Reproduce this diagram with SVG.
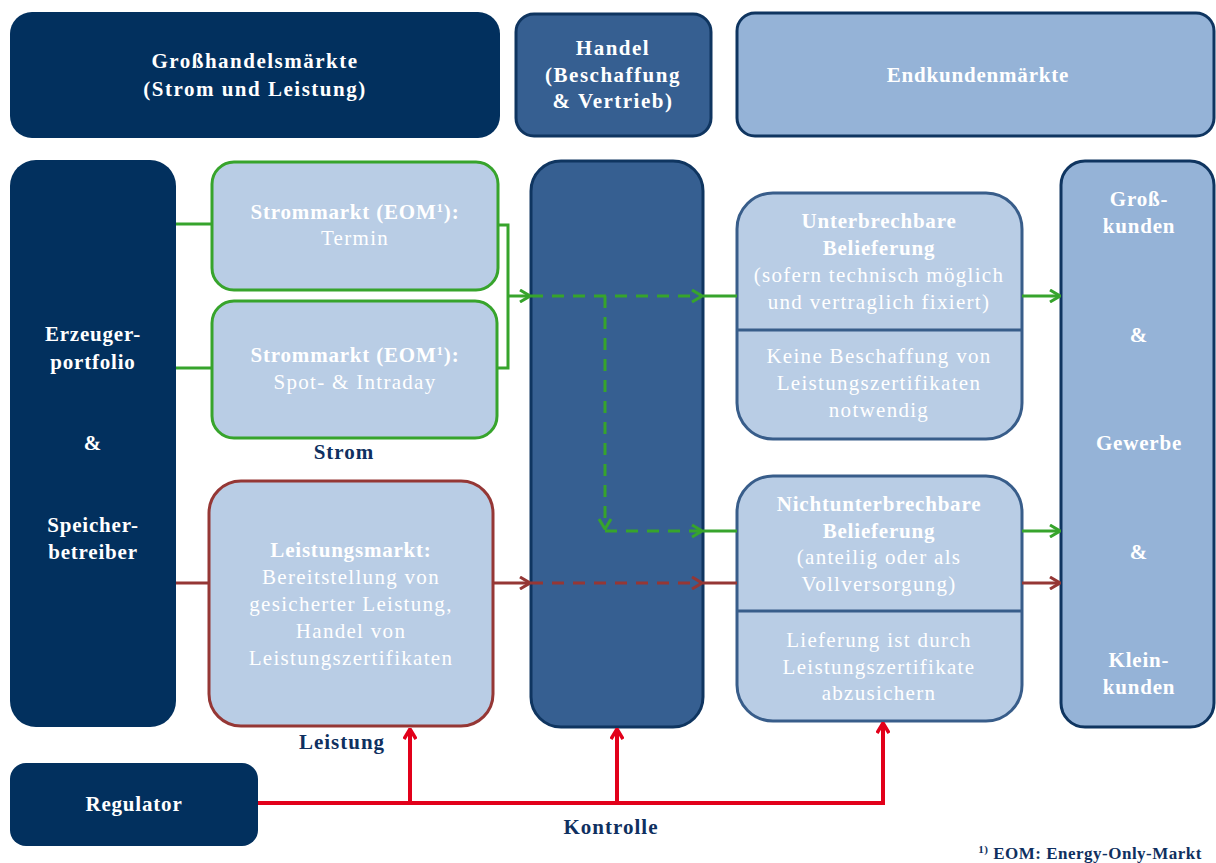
<svg xmlns="http://www.w3.org/2000/svg" width="1216" height="863" viewBox="0 0 1216 863">
<defs>
<style>
text{font-family:"Liberation Serif","DejaVu Serif",serif;font-size:21px;fill:#ffffff;text-anchor:middle;letter-spacing:1.3px}
.b{font-weight:bold;letter-spacing:0.8px}
.h{font-weight:bold;letter-spacing:1.5px}
.lbl{fill:#0f3060;font-weight:bold;letter-spacing:1px}
.dark{fill:#02305e}
.mid{fill:#365f91;stroke:#0f3560;stroke-width:3}
.light{fill:#b9cde5}
.cust{fill:#95b3d7;stroke:#0f3560;stroke-width:3}
.g{stroke:#37a42c;stroke-width:3;fill:none}
.r{stroke:#953735;stroke-width:3;fill:none}
.k{stroke:#e2001a;stroke-width:4;fill:none}
.dash{stroke-dasharray:12 9}
</style>
<marker id="ag" viewBox="0 0 12 14" refX="11" refY="7" markerWidth="12" markerHeight="14" markerUnits="userSpaceOnUse" orient="auto"><path d="M1,1 L11,7 L1,13" fill="none" stroke="#37a42c" stroke-width="3"/></marker>
<marker id="ar" viewBox="0 0 12 14" refX="11" refY="7" markerWidth="12" markerHeight="14" markerUnits="userSpaceOnUse" orient="auto"><path d="M1,1 L11,7 L1,13" fill="none" stroke="#953735" stroke-width="3"/></marker>
<marker id="ak" viewBox="0 0 12 14" refX="11" refY="7" markerWidth="12" markerHeight="14" markerUnits="userSpaceOnUse" orient="auto"><path d="M1,1 L11,7 L1,13" fill="none" stroke="#e2001a" stroke-width="3.5"/></marker>
</defs>

<g id="hdr-gross"><rect x="10" y="12" width="490" height="126" rx="22" class="dark"/>
<text x="255" y="68" class="h">Großhandelsmärkte</text><text x="255" y="96" class="h">(Strom und Leistung)</text></g>
<g id="hdr-handel"><rect x="516" y="14" width="195" height="122" rx="18" class="mid"/>
<text x="613" y="55" class="h">Handel</text><text x="613" y="82" class="h">(Beschaffung</text><text x="613" y="108" class="h">&amp; Vertrieb)</text></g>
<g id="hdr-endkunden"><rect x="737" y="13" width="477" height="123" rx="18" class="cust"/>
<text x="978" y="82" class="b">Endkundenmärkte</text></g>

<g id="erzeuger"><rect x="10" y="160" width="166" height="567" rx="26" class="dark"/>
<text x="93" y="341" class="b">Erzeuger-</text><text x="93" y="369" class="b">portfolio</text><text x="93" y="450" class="b">&amp;</text><text x="93" y="532" class="b">Speicher-</text><text x="93" y="559" class="b">betreiber</text></g>

<g id="strom-termin"><rect x="212" y="162" width="286" height="128" rx="22" class="light" stroke="#37a42c" stroke-width="3"/>
<text x="355" y="219" class="b">Strommarkt (EOM<tspan font-size="13" dy="-7">1</tspan><tspan dy="7">):</tspan></text><text x="355" y="245">Termin</text></g>
<g id="strom-spot"><rect x="212" y="301" width="285" height="137" rx="22" class="light" stroke="#37a42c" stroke-width="3"/>
<text x="355" y="362" class="b">Strommarkt (EOM<tspan font-size="13" dy="-7">1</tspan><tspan dy="7">):</tspan></text><text x="355" y="389">Spot- &amp; Intraday</text></g>
<text x="344" y="459" class="lbl">Strom</text>

<g id="leistungsmarkt"><rect x="209" y="481" width="284" height="245" rx="32" class="light" stroke="#953735" stroke-width="3"/>
<text x="351" y="557" class="b">Leistungsmarkt:</text><text x="351" y="584">Bereitstellung von</text><text x="351" y="611">gesicherter Leistung,</text><text x="351" y="638">Handel von</text><text x="351" y="665">Leistungszertifikaten</text></g>
<text x="342" y="749" class="lbl">Leistung</text>

<g id="regulator"><rect x="10" y="763" width="248" height="83" rx="16" class="dark"/>
<text x="134" y="811" class="b">Regulator</text></g>
<text x="611" y="834" class="lbl">Kontrolle</text>

<g id="handel"><rect x="531" y="161" width="172" height="566" rx="30" class="mid"/></g>

<g id="unterbrechbar"><rect x="737" y="193" width="285" height="246" rx="36" class="light" stroke="#385d8a" stroke-width="3"/>
<line x1="737" y1="330" x2="1022" y2="330" stroke="#385d8a" stroke-width="3"/>
<text x="879" y="228" class="b">Unterbrechbare</text><text x="879" y="255" class="b">Belieferung</text><text x="879" y="282">(sofern technisch möglich</text><text x="879" y="309">und vertraglich fixiert)</text>
<text x="879" y="363">Keine Beschaffung von</text><text x="879" y="390">Leistungszertifikaten</text><text x="879" y="417">notwendig</text></g>

<g id="nichtunterbrechbar"><rect x="737" y="476" width="285" height="245" rx="36" class="light" stroke="#385d8a" stroke-width="3"/>
<line x1="737" y1="611" x2="1022" y2="611" stroke="#385d8a" stroke-width="3"/>
<text x="879" y="511" class="b">Nichtunterbrechbare</text><text x="879" y="538" class="b">Belieferung</text><text x="879" y="564">(anteilig oder als</text><text x="879" y="591">Vollversorgung)</text>
<text x="879" y="647">Lieferung ist durch</text><text x="879" y="674">Leistungszertifikate</text><text x="879" y="700">abzusichern</text></g>

<g id="kunden"><rect x="1061" y="161" width="153" height="566" rx="24" class="cust"/>
<text x="1139" y="206" class="b">Groß-</text><text x="1139" y="233" class="b">kunden</text><text x="1139" y="342" class="b">&amp;</text><text x="1139" y="450" class="b">Gewerbe</text><text x="1139" y="559" class="b">&amp;</text><text x="1139" y="667" class="b">Klein-</text><text x="1139" y="694" class="b">kunden</text></g>

<g id="connectors">
<line x1="176" y1="224" x2="212" y2="224" class="g"/>
<line x1="176" y1="368" x2="212" y2="368" class="g"/>
<polyline points="498,225 508,225 508,368 497,368" class="g"/>
<line x1="508" y1="296" x2="530" y2="296" class="g" marker-end="url(#ag)"/>
<line x1="531" y1="296" x2="702" y2="296" class="g dash" marker-end="url(#ag)"/>
<line x1="703" y1="296" x2="737" y2="296" class="g"/>
<line x1="1022" y1="296" x2="1060" y2="296" class="g" marker-end="url(#ag)"/>
<line x1="605" y1="296" x2="605" y2="529" class="g dash" marker-end="url(#ag)"/>
<line x1="605" y1="531" x2="702" y2="531" class="g dash" marker-end="url(#ag)"/>
<line x1="703" y1="531" x2="737" y2="531" class="g"/>
<line x1="1022" y1="531" x2="1060" y2="531" class="g" marker-end="url(#ag)"/>

<line x1="176" y1="583" x2="209" y2="583" class="r"/>
<line x1="493" y1="583" x2="530" y2="583" class="r" marker-end="url(#ar)"/>
<line x1="531" y1="583" x2="702" y2="583" class="r dash" marker-end="url(#ar)"/>
<line x1="703" y1="583" x2="737" y2="583" class="r"/>
<line x1="1022" y1="583" x2="1060" y2="583" class="r" marker-end="url(#ar)"/>

<polyline points="258,803 883,803 883,723" class="k" marker-end="url(#ak)"/>
<line x1="410" y1="803" x2="410" y2="729" class="k" marker-end="url(#ak)"/>
<line x1="617" y1="803" x2="617" y2="729" class="k" marker-end="url(#ak)"/>
</g>

<text x="1202" y="859" class="lbl" style="text-anchor:end;font-size:17px;letter-spacing:0.5px"><tspan font-size="11" dy="-6">1)</tspan><tspan dy="6"> EOM: Energy-Only-Markt</tspan></text>
</svg>
